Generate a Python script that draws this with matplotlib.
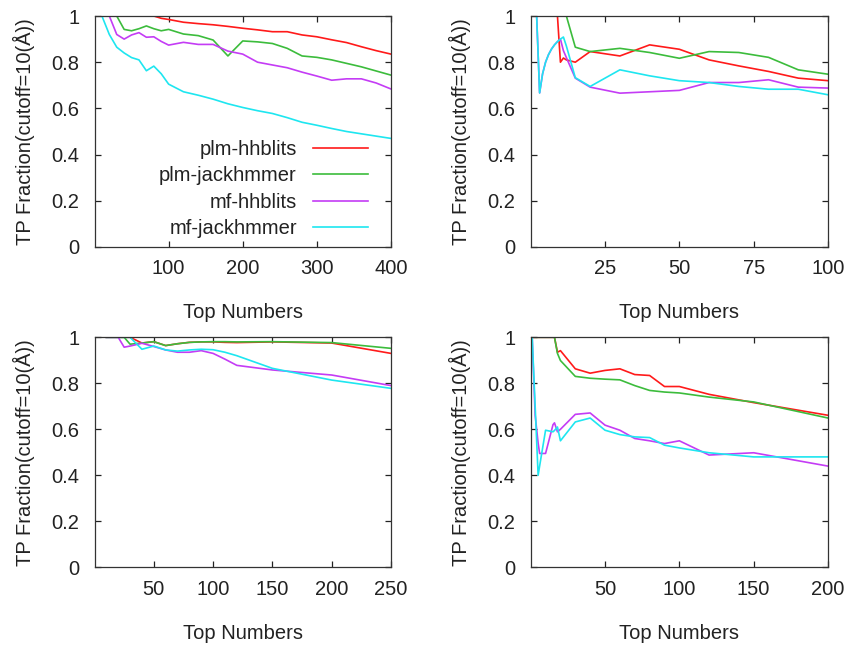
import matplotlib
matplotlib.use("Agg")
import matplotlib.pyplot as plt

plt.rcParams['font.family'] = ['Liberation Sans', 'DejaVu Sans']

series_names = ["plm-hhblits", "plm-jackhmmer", "mf-hhblits", "mf-jackhmmer"]
colors = ["#ff1a1a", "#3cbc3c", "#c43cf5", "#1ee6f0"]

# Panel 1 (top-left)
x1 = [10, 15, 20, 30, 40, 50, 60, 70, 80, 90, 100, 120, 140, 160, 180, 200,
      220, 240, 260, 280, 300, 320, 340, 360, 380, 400]
p1_plm_hhblits = [1, 1, 1, 1, 1, 1, 1, 1, 1, 0.99, 0.985, 0.973, 0.967, 0.962,
                  0.955, 0.947, 0.94, 0.932, 0.932, 0.918, 0.91, 0.897, 0.885,
                  0.867, 0.85, 0.835]
p1_plm_jackhmmer = [1, 1, 1, 1, 0.942, 0.936, 0.945, 0.957, 0.945, 0.936,
                    0.942, 0.922, 0.915, 0.896, 0.827, 0.892, 0.888, 0.881,
                    0.86, 0.827, 0.821, 0.81, 0.795, 0.78, 0.762, 0.744]
p1_mf_hhblits = [1, 1, 1, 0.92, 0.90, 0.918, 0.928, 0.908, 0.91, 0.89, 0.874,
                 0.886, 0.877, 0.877, 0.848, 0.835, 0.80, 0.788, 0.776, 0.757,
                 0.74, 0.722, 0.728, 0.728, 0.71, 0.684]
p1_mf_jackhmmer = [1, 0.96, 0.92, 0.865, 0.84, 0.82, 0.81, 0.763, 0.783, 0.75,
                   0.705, 0.672, 0.657, 0.64, 0.62, 0.604, 0.59, 0.578, 0.56,
                   0.54, 0.527, 0.513, 0.50, 0.49, 0.48, 0.47]

# Panel 2 (top-right)
x2 = [1, 2, 3, 4, 5, 6, 7, 8, 9, 10, 11, 12, 15, 20, 30, 40, 50, 60, 70, 80, 90, 100]
p2_plm_hhblits = [1, 1, 1, 1, 1, 1, 1, 1, 1, 0.80, 0.818, 0.81, 0.80, 0.846,
                  0.827, 0.875, 0.856, 0.81, 0.784, 0.76, 0.731, 0.72]
p2_plm_jackhmmer = [1, 1, 1, 1, 1, 1, 1, 1, 1, 1, 1, 1, 0.865, 0.846, 0.86,
                    0.842, 0.817, 0.846, 0.842, 0.821, 0.767, 0.748]
p2_mf_hhblits = [1, 1, 0.667, 0.75, 0.8, 0.833, 0.857, 0.875, 0.889, 0.9, 0.85,
                 0.82, 0.731, 0.692, 0.666, 0.672, 0.678, 0.712, 0.712, 0.724,
                 0.692, 0.688]
p2_mf_jackhmmer = [1, 1, 0.667, 0.75, 0.8, 0.833, 0.857, 0.875, 0.889, 0.9,
                   0.909, 0.87, 0.733, 0.695, 0.767, 0.741, 0.72, 0.712, 0.695,
                   0.683, 0.683, 0.659]

# Panel 3 (bottom-left)
x3 = [10, 20, 25, 30, 40, 50, 60, 70, 80, 90, 100, 110, 120, 150, 200, 250]
p3_plm_hhblits = [1, 1, 1, 1, 0.975, 0.981, 0.964, 0.972, 0.978, 0.98, 0.98,
                  0.978, 0.977, 0.98, 0.975, 0.93]
p3_plm_jackhmmer = [1, 1, 1, 0.97, 0.975, 0.981, 0.964, 0.972, 0.978, 0.98,
                    0.981, 0.981, 0.98, 0.981, 0.977, 0.952]
p3_mf_hhblits = [1, 1, 0.957, 0.962, 0.974, 0.96, 0.945, 0.935, 0.935, 0.942,
                 0.93, 0.905, 0.878, 0.858, 0.836, 0.79]
p3_mf_jackhmmer = [1, 1, 1, 1, 0.948, 0.962, 0.945, 0.94, 0.945, 0.948, 0.946,
                   0.935, 0.92, 0.865, 0.814, 0.778]

# Panel 4 (bottom-right)
x4 = [1, 3, 5, 6, 10, 15, 16, 18, 20, 30, 40, 50, 60, 70, 80, 90, 100, 120, 150, 200]
p4_plm_hhblits = [1, 1, 1, 1, 1, 1, 1, 0.935, 0.942, 0.863, 0.844, 0.856,
                  0.863, 0.838, 0.834, 0.786, 0.786, 0.752, 0.716, 0.661]
p4_plm_jackhmmer = [1, 1, 1, 1, 1, 1, 1, 0.93, 0.899, 0.83, 0.822, 0.818,
                    0.815, 0.79, 0.769, 0.762, 0.758, 0.74, 0.719, 0.649]
p4_mf_hhblits = [1, 0.661, 0.54, 0.495, 0.495, 0.62, 0.628, 0.589, 0.60, 0.665,
                 0.671, 0.618, 0.596, 0.56, 0.55, 0.538, 0.55, 0.488, 0.498, 0.44]
p4_mf_jackhmmer = [1, 0.70, 0.40, 0.44, 0.596, 0.589, 0.595, 0.61, 0.55, 0.632,
                   0.649, 0.596, 0.577, 0.567, 0.564, 0.531, 0.519, 0.498, 0.48, 0.48]

panels = [
    (x1, [p1_plm_hhblits, p1_plm_jackhmmer, p1_mf_hhblits, p1_mf_jackhmmer], (0, 400), [100, 200, 300, 400]),
    (x2, [p2_plm_hhblits, p2_plm_jackhmmer, p2_mf_hhblits, p2_mf_jackhmmer], (0, 100), [25, 50, 75, 100]),
    (x3, [p3_plm_hhblits, p3_plm_jackhmmer, p3_mf_hhblits, p3_mf_jackhmmer], (0, 250), [50, 100, 150, 200, 250]),
    (x4, [p4_plm_hhblits, p4_plm_jackhmmer, p4_mf_hhblits, p4_mf_jackhmmer], (0, 200), [50, 100, 150, 200]),
]
yticks = [0, 0.2, 0.4, 0.6, 0.8, 1]
ytick_labels = ["0", "0.2", "0.4", "0.6", "0.8", "1"]

W, H = 848, 646
fig = plt.figure(figsize=(W / 100, H / 100), dpi=100)
boxes = [(94.5, 16, 391, 247), (530.7, 16, 828, 247),
         (94.5, 337.3, 391, 567.3), (530.7, 337.3, 828, 567.3)]

fs = 14.5
for i, ((xs, ys_list, xlim, xt), (l, t, r, b)) in enumerate(zip(panels, boxes)):
    ax = fig.add_axes([l / W, 1 - b / H, (r - l) / W, (b - t) / H])
    for ys, c, name in zip(ys_list, colors, series_names):
        ax.plot(xs, ys, color=c, lw=1.2, label=name, zorder=2)
    ax.set_xlim(*xlim)
    ax.set_ylim(0, 1)
    ax.set_xticks(xt)
    ax.set_xticklabels([str(v) for v in xt], fontsize=fs, color="#222222")
    ax.set_yticks(yticks)
    ax.set_yticklabels(ytick_labels, fontsize=fs, color="#222222")
    ax.tick_params(direction="in", length=4.5, width=0.9, top=True, right=True,
                   color="#222222")
    ax.tick_params(axis="x", pad=9)
    ax.tick_params(axis="y", pad=11)
    for s in ax.spines.values():
        s.set_color("#333333")
        s.set_linewidth(0.9)
    ax.set_xlabel("Top Numbers", fontsize=fs, color="#222222", labelpad=18)
    ax.set_ylabel("TP Fraction(cutoff=10(Å))", fontsize=fs, color="#222222", labelpad=12)
    if i == 0:
        leg = ax.legend(loc="lower right", bbox_to_anchor=(0.923, 0.038),
                        markerfirst=False, frameon=False, fontsize=fs,
                        handlelength=2.74, handletextpad=0.8, labelspacing=0.37,
                        borderpad=0, borderaxespad=0)
        for t_ in leg.get_texts():
            t_.set_color("#222222")

fig.savefig("out.png", dpi=100)
